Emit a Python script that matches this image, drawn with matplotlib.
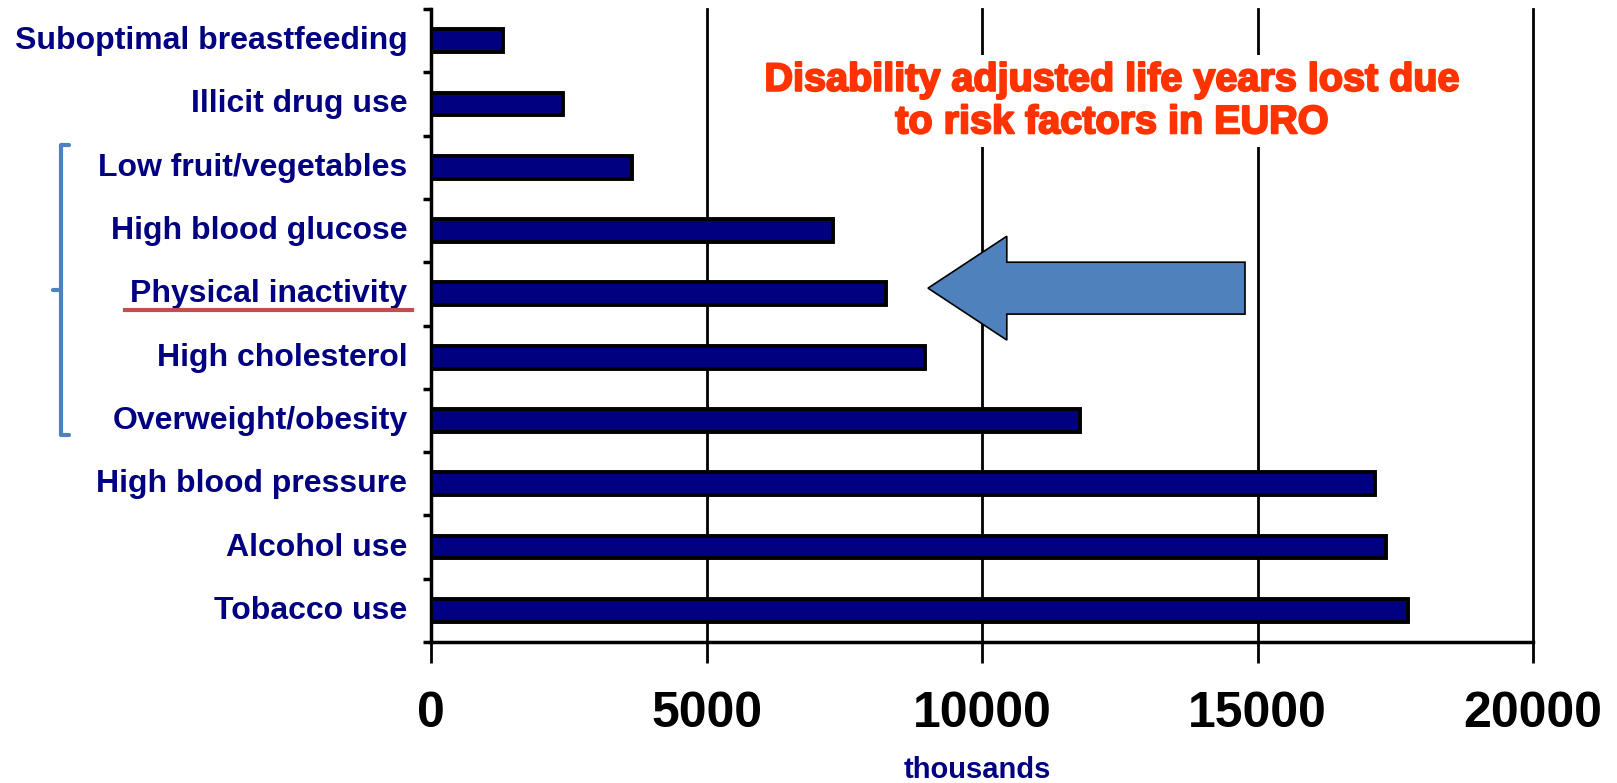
import matplotlib
matplotlib.use('Agg')
import matplotlib.pyplot as plt
import matplotlib.patheffects as pe
from matplotlib.patches import FancyArrow
from matplotlib.lines import Line2D
from matplotlib.transforms import ScaledTranslation

plt.rcParams['font.family'] = ['Liberation Sans', 'DejaVu Sans']

# risk factors, bottom to top as drawn
factors = ['Tobacco use', 'Alcohol use', 'High blood pressure', 'Overweight/obesity',
           'High cholesterol', 'Physical inactivity', 'High blood glucose',
           'Low fruit/vegetables', 'Illicit drug use', 'Suboptimal breastfeeding']
dalys = [17730, 17340, 17140, 11770, 8960, 8250, 7300, 3650, 2400, 1300]
xticks = [0, 5000, 10000, 15000, 20000]

W, H = 1617, 783
fig = plt.figure(figsize=(W / 100, H / 100), dpi=100)
ax = fig.add_axes([431 / W, 1 - 642 / H, (1533 - 431) / W, (642 - 9) / H])

ypos = list(range(len(factors)))
ax.barh(ypos, dalys, height=0.36, color='#000080', edgecolor='black', linewidth=2.8, zorder=3)

ax.set_xlim(0, 20000)
ax.set_ylim(-0.5, len(factors) - 0.5)

for x in xticks[1:]:
    ax.axvline(x, color='black', lw=2, zorder=1, clip_on=False)

ax.set_xticks(xticks)
ax.set_xticklabels([str(x) for x in xticks], fontsize=36, fontweight='bold')
ax.tick_params(axis='x', length=15, width=2, pad=20, direction='out')

ax.set_yticks(ypos)
ax.set_yticklabels(factors, fontsize=23, fontweight='bold', color='#000080')
ax.tick_params(axis='y', which='major', length=0, pad=17)
ax.set_yticks([i - 0.5 for i in range(len(factors) + 1)], minor=True)
ax.tick_params(axis='y', which='minor', length=6, width=2.5, direction='out')
# labels sit a touch above the bar centres
shift = ScaledTranslation(0, 3 / 100, fig.dpi_scale_trans)
for lab in ax.get_yticklabels():
    lab.set_transform(lab.get_transform() + shift)

for s in ['top', 'right']:
    ax.spines[s].set_visible(False)
ax.spines['left'].set_linewidth(2.5)
ax.spines['bottom'].set_linewidth(2.5)

# big arrow pointing at physical inactivity
ax.add_patch(FancyArrow(14773, 5.09, -5753, 0, width=0.82, head_width=1.64,
                        head_length=1430, length_includes_head=True,
                        facecolor='#4F81BD', edgecolor='black', linewidth=1.2,
                        zorder=4, clip_on=False))

fig.text(1112 / W, 1 - 101 / H, 'Disability adjusted life years lost due\nto risk factors in EURO',
         ha='center', va='center', fontsize=28.5, fontweight='bold', color='#FF3300',
         linespacing=1.15, zorder=5,
         path_effects=[pe.withStroke(linewidth=1.5, foreground='#FF3300')],
         bbox=dict(facecolor='white', edgecolor='none', pad=4))

fig.text(977 / W, 1 - 770 / H, 'thousands', ha='center', va='center',
         fontsize=21, fontweight='bold', color='#000080')

# bracket on the left and underline
def px(xs, ys):
    return [x / W for x in xs], [1 - y / H for y in ys]

blue = '#4F81BD'
for xs, ys in [([69, 61, 61, 69], [145, 145, 435, 435]), ([61, 53], [290, 290])]:
    fx, fy = px(xs, ys)
    fig.add_artist(Line2D(fx, fy, color=blue, lw=3, solid_capstyle='round',
                          solid_joinstyle='round'))
fx, fy = px([125, 412], [310, 310])
fig.add_artist(Line2D(fx, fy, color='#C0504D', lw=3))

fig.savefig('out.png', dpi=100)
